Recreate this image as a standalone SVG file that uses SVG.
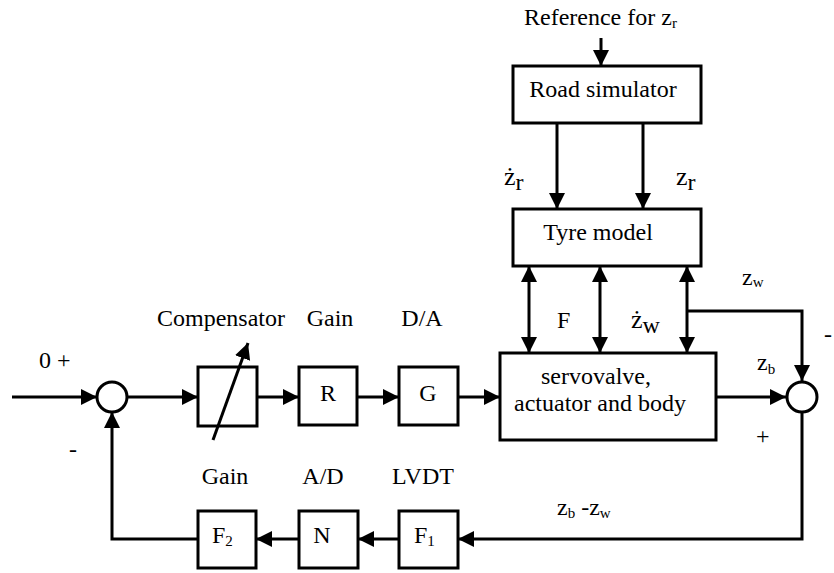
<svg xmlns="http://www.w3.org/2000/svg" width="834" height="573" viewBox="0 0 834 573">
<style>
  .box{fill:#fff;stroke:#000;stroke-width:3}
  .ln{fill:none;stroke:#000;stroke-width:3}
  .arr{marker-end:url(#ah)}
  .bi{marker-end:url(#ah);marker-start:url(#ah)}
  text{font-family:"Liberation Serif","Times New Roman",serif;fill:#000}
  .t{font-size:24px}
  .c{text-anchor:middle}
  .s{font-size:26px}
  .sub{font-size:15px}
</style>
<defs>
  <marker id="ah" markerUnits="userSpaceOnUse" markerWidth="17" markerHeight="17" refX="16" refY="8" orient="auto-start-reverse">
    <path d="M0,0 L16,8 L0,16 Z" fill="#000"/>
  </marker>
</defs>

<g id="connectors">
  <line class="ln arr" x1="601" y1="38" x2="601" y2="66"/>
  <line class="ln arr" x1="557" y1="123" x2="557" y2="209"/>
  <line class="ln arr" x1="643" y1="123" x2="643" y2="209"/>
  <line class="ln bi" x1="529" y1="266" x2="529" y2="353"/>
  <line class="ln bi" x1="600" y1="266" x2="600" y2="353"/>
  <line class="ln bi" x1="687" y1="266" x2="687" y2="353"/>
  <polyline class="ln arr" points="687,311 802,311 802,381"/>
  <line class="ln arr" x1="716" y1="397" x2="786" y2="397"/>
  <line class="ln arr" x1="12" y1="397" x2="97" y2="397"/>
  <line class="ln arr" x1="127" y1="397" x2="198" y2="397"/>
  <line class="ln arr" x1="257" y1="397" x2="299" y2="397"/>
  <line class="ln arr" x1="357" y1="397" x2="399" y2="397"/>
  <line class="ln arr" x1="458" y1="397" x2="500" y2="397"/>
  <polyline class="ln arr" points="802,412 802,539 458,539"/>
  <line class="ln arr" x1="399" y1="539" x2="358" y2="539"/>
  <line class="ln arr" x1="299" y1="539" x2="256" y2="539"/>
  <polyline class="ln arr" points="198,539 112,539 112,412"/>
</g>

<g id="reference-label">
  <text class="t" x="524" y="25">Reference for z<tspan class="sub" dy="3">r</tspan></text>
</g>

<g id="road-simulator">
  <rect class="box" x="513" y="66" width="188" height="57"/>
  <text class="t c" x="603" y="97">Road simulator</text>
</g>

<g id="tyre-model">
  <rect class="box" x="513" y="209" width="188" height="57"/>
  <text class="t c" x="598" y="240">Tyre model</text>
</g>

<g id="servovalve">
  <rect class="box" x="500" y="353" width="216" height="87"/>
  <text class="t c" x="596" y="384">servovalve,</text>
  <text class="t c" x="600" y="411">actuator and body</text>
</g>

<g id="sum-left">
  <circle class="ln" cx="112" cy="397" r="15"/>
</g>
<g id="sum-right">
  <circle class="ln" cx="802" cy="397" r="15"/>
</g>

<g id="compensator">
  <rect class="box" x="198" y="367" width="59" height="59"/>
  <line class="ln arr" x1="213" y1="440" x2="248" y2="343"/>
  <text class="t" x="285" y="326" text-anchor="end">Compensator</text>
</g>

<g id="gain-R">
  <rect class="box" x="299" y="367" width="58" height="58"/>
  <text class="t c" x="328" y="401">R</text>
  <text class="t c" x="330" y="326">Gain</text>
</g>

<g id="da-G">
  <rect class="box" x="399" y="367" width="59" height="58"/>
  <text class="t c" x="428" y="401">G</text>
  <text class="t c" x="422" y="326">D/A</text>
</g>

<g id="gain-F2">
  <rect class="box" x="198" y="511" width="58" height="57"/>
  <text class="t" x="212" y="543">F<tspan class="sub" dy="3">2</tspan></text>
  <text class="t c" x="225" y="484">Gain</text>
</g>

<g id="ad-N">
  <rect class="box" x="299" y="511" width="59" height="57"/>
  <text class="t c" x="322" y="543">N</text>
  <text class="t c" x="323" y="484">A/D</text>
</g>

<g id="lvdt-F1">
  <rect class="box" x="399" y="511" width="59" height="57"/>
  <text class="t" x="414" y="543">F<tspan class="sub" dy="3">1</tspan></text>
  <text class="t c" x="423" y="484">LVDT</text>
</g>

<g id="labels">
  <text class="s" x="504" y="185">ż<tspan dy="5" font-size="24">r</tspan></text>
  <text class="s" x="676" y="185">z<tspan dy="5" font-size="24">r</tspan></text>
  <text class="t" x="557" y="328">F</text>
  <text class="s" x="631" y="328">ż<tspan dy="5" font-size="24">w</tspan></text>
  <text class="t" x="742" y="285" font-size="22">z<tspan class="sub" dy="2">w</tspan></text>
  <text class="t" x="757" y="370" font-size="22">z<tspan class="sub" dy="4">b</tspan></text>
  <text class="t" x="557" y="515" font-size="22">z<tspan class="sub" dy="3">b</tspan><tspan dy="-3"> -z</tspan><tspan class="sub" dy="3">w</tspan></text>
  <text class="t" x="39" y="368" font-size="22">0  +</text>
  <text class="t" x="69" y="457" font-size="22">-</text>
  <text class="t" x="756" y="444" font-size="22">+</text>
  <text class="t" x="824" y="342" font-size="22">-</text>
</g>
</svg>
